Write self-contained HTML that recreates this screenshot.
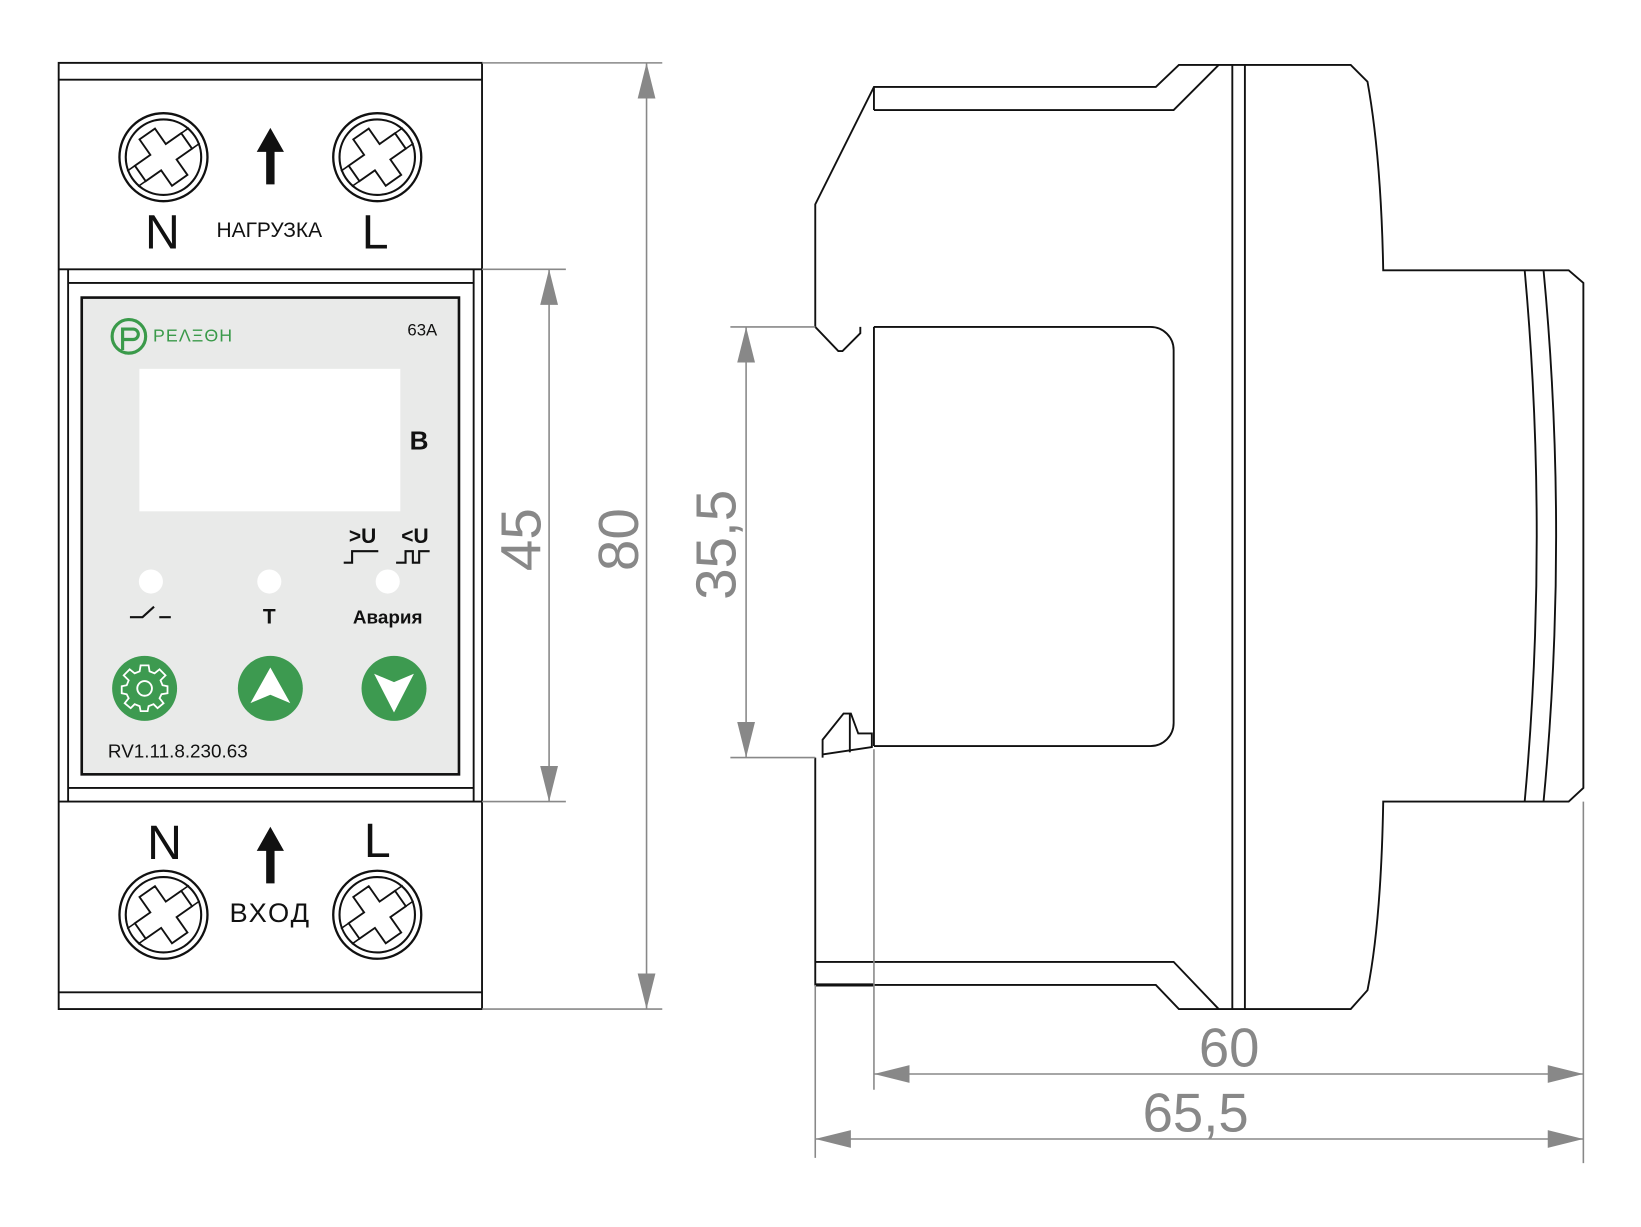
<!DOCTYPE html>
<html><head><meta charset="utf-8"><style>
html,body{margin:0;padding:0;background:#fff}
svg{display:block}
text{font-family:"Liberation Sans","DejaVu Sans",sans-serif}
</style></head><body>
<svg width="1641" height="1227" viewBox="0 0 1566 1171" preserveAspectRatio="none" xmlns="http://www.w3.org/2000/svg">
<defs>
<g id="scr">
<circle r="42" fill="#fff" stroke="#111" stroke-width="2.2"/>
<circle r="36" fill="none" stroke="#111" stroke-width="2"/>
<g transform="rotate(-35)">
<path d="M-9,-27 H9 V-9 H27 V9 H9 V27 H-9 V9 H-27 V-9 H-9 Z" fill="none" stroke="#111" stroke-width="1.8"/>
<path d="M27,-9 H36 M27,9 H36 M-27,-9 H-36 M-27,9 H-36" stroke="#111" stroke-width="1.5"/>
</g>
</g>
<marker id="ah" viewBox="0 0 20 10" refX="20" refY="5" markerWidth="34" markerHeight="17" markerUnits="userSpaceOnUse" orient="auto-start-reverse"><path d="M0,0 L20,5 L0,10 Z" fill="#888"/></marker>
</defs>

<!-- LEFT VIEW -->
<g fill="none" stroke="#111" stroke-width="1.8">
<rect x="56" y="60" width="404" height="903"/>
<line x1="56" y1="76" x2="460" y2="76"/>
<line x1="56" y1="947" x2="460" y2="947"/>
<line x1="56" y1="257" x2="460" y2="257"/>
<line x1="56" y1="765" x2="460" y2="765"/>
<line x1="65" y1="257" x2="65" y2="765"/>
<line x1="452" y1="257" x2="452" y2="765"/>
<line x1="65" y1="270" x2="452" y2="270"/>
<line x1="65" y1="752" x2="452" y2="752"/>
</g>
<rect x="78" y="284" width="360" height="455" fill="#e9eae9" stroke="#111" stroke-width="2.5"/>

<use href="#scr" x="156" y="150"/>
<use href="#scr" x="360" y="150"/>
<use href="#scr" x="156" y="873"/>
<use href="#scr" x="360" y="873"/>
<path d="M254,176 V145 H245 L258,122 L271,145 H262 V176 Z" fill="#111"/>
<path d="M254,843 V812 H245 L258,789 L271,812 H262 V843 Z" fill="#111"/>
<text x="155" y="237" font-size="46" text-anchor="middle" fill="#111">N</text>
<text x="257" y="226" font-size="20" text-anchor="middle" fill="#111">НАГРУЗКА</text>
<text x="358" y="237" font-size="46" text-anchor="middle" fill="#111">L</text>
<text x="157" y="820" font-size="46" text-anchor="middle" fill="#111">N</text>
<text x="360" y="818" font-size="46" text-anchor="middle" fill="#111">L</text>
<text x="258" y="880" font-size="26" text-anchor="middle" fill="#111" letter-spacing="2">ВХОД</text>

<!-- panel contents -->
<circle cx="123" cy="321" r="16" fill="none" stroke="#3a9a4a" stroke-width="3"/>
<path d="M117,334 V314 H127 A5,5 0 0 1 127,324 H117" fill="none" stroke="#3a9a4a" stroke-width="3"/>
<text x="146" y="326" font-size="17" fill="#3a9a4a" letter-spacing="1">PEΛΞΘH</text>
<text x="403" y="320" font-size="16" text-anchor="middle" fill="#111">63А</text>
<rect x="133" y="352" width="249" height="136" fill="#fff"/>
<text x="400" y="429" font-size="25" font-weight="bold" text-anchor="middle" fill="#111">В</text>
<text x="346" y="518" font-size="20" font-weight="bold" text-anchor="middle" fill="#111">&gt;U</text>
<text x="396" y="518" font-size="20" font-weight="bold" text-anchor="middle" fill="#111">&lt;U</text>
<path d="M328,537 H336 V526 H361" fill="none" stroke="#111" stroke-width="2"/>
<path d="M378,537 H387 V526 H394 V537 H400 V526 H410" fill="none" stroke="#111" stroke-width="2"/>
<circle cx="144" cy="555" r="11.5" fill="#fff"/>
<circle cx="257" cy="555" r="11.5" fill="#fff"/>
<circle cx="370" cy="555" r="11.5" fill="#fff"/>
<path d="M124,589 H136 L147,579 M152,589 H163" fill="none" stroke="#111" stroke-width="2"/>
<text x="257" y="595" font-size="20" font-weight="bold" text-anchor="middle" fill="#111">Т</text>
<text x="370" y="595" font-size="18" font-weight="bold" text-anchor="middle" fill="#111">Авария</text>
<circle cx="138" cy="657" r="31" fill="#3d9a50"/>
<g transform="translate(138,657)" fill="none" stroke="#fff" stroke-width="1.8">
<circle r="7"/>
<path d="M-4,-20 H4 L5,-14 L10,-12 L15,-16 L21,-10 L16,-5 L18,0 L23,1 V8 L17,9 L15,13 L19,18 L13,23 L9,19 L4,21 L3,26 H-4 L-5,21 L-10,19 L-14,23 L-20,18 L-16,13 L-18,9 L-23,8 V1 L-18,0 L-16,-5 L-21,-10 L-15,-16 L-10,-12 L-5,-14 Z" transform="translate(0,-3) scale(0.95)"/>
</g>
<circle cx="258" cy="657" r="31" fill="#3d9a50"/>
<path d="M258,637 L277,671 L258,663 L239,671 Z" fill="#fff"/>
<circle cx="376" cy="657" r="31" fill="#3d9a50"/>
<path d="M376,680 L357,643 L376,651 L395,643 Z" fill="#fff"/>
<text x="103" y="723" font-size="18" fill="#111">RV1.11.8.230.63</text>

<!-- left dims -->
<g stroke="#888" stroke-width="1.5" fill="none">
<line x1="460" y1="60" x2="632" y2="60"/>
<line x1="460" y1="963" x2="632" y2="963"/>
<line x1="617" y1="60" x2="617" y2="963" marker-start="url(#ah)" marker-end="url(#ah)"/>
<line x1="460" y1="257" x2="540" y2="257"/>
<line x1="460" y1="765" x2="540" y2="765"/>
<line x1="524" y1="257" x2="524" y2="765" marker-start="url(#ah)" marker-end="url(#ah)"/>
</g>
<text transform="translate(609,515) rotate(-90)" font-size="54" text-anchor="middle" fill="#888" font-weight="300">80</text>
<text transform="translate(516,515) rotate(-90)" font-size="54" text-anchor="middle" fill="#888" font-weight="300">45</text>

<!-- RIGHT VIEW -->
<g fill="none" stroke="#111" stroke-width="1.8">
<path d="M778,312 V195 L834,83 H1103 L1125,62 H1289 L1305,78 Q1318,150 1320,258 H1497 L1511,270 V752 L1497,765 H1320 Q1318,880 1305,945 L1289,963 H1125 L1103,940 H778 V723"/>
<path d="M834,105 H1120 L1163,62"/>
<path d="M778,918 H1120 L1163,963"/>
<line x1="1176" y1="62" x2="1176" y2="963"/>
<line x1="1188" y1="62" x2="1188" y2="963"/>
<line x1="834" y1="83" x2="834" y2="105"/>
<path d="M778,312 L800,335 L804,335 L821,318 V312"/>
<line x1="834" y1="312" x2="834" y2="712"/>
<path d="M834,312 H1098 A22,22 0 0 1 1120,334 V690 A22,22 0 0 1 1098,712 H834"/>
<path d="M785,723 V706 L805,681 H812 L819,700 H832 V713 L785,720"/>
<line x1="811" y1="681" x2="811" y2="718"/>
<line x1="778" y1="940" x2="834" y2="940" stroke-width="3"/>
<path d="M1455,258 Q1478,512 1455,765"/>
<path d="M1473,258 Q1497,512 1473,765"/>
</g>

<!-- right dims -->
<g stroke="#888" stroke-width="1.5" fill="none">
<line x1="697" y1="312" x2="778" y2="312"/>
<line x1="697" y1="723" x2="778" y2="723"/>
<line x1="712" y1="312" x2="712" y2="723" marker-start="url(#ah)" marker-end="url(#ah)"/>
<line x1="778" y1="940" x2="778" y2="1105"/>
<line x1="834" y1="715" x2="834" y2="1040"/>
<line x1="1511" y1="765" x2="1511" y2="1110"/>
<line x1="834" y1="1025" x2="1511" y2="1025" marker-start="url(#ah)" marker-end="url(#ah)"/>
<line x1="778" y1="1087" x2="1511" y2="1087" marker-start="url(#ah)" marker-end="url(#ah)"/>
</g>
<text transform="translate(702,520) rotate(-90)" font-size="54" text-anchor="middle" fill="#888">35,5</text>
<text x="1173" y="1018" font-size="52" text-anchor="middle" fill="#888">60</text>
<text x="1141" y="1080" font-size="52" text-anchor="middle" fill="#888">65,5</text>
</svg>
</body></html>
